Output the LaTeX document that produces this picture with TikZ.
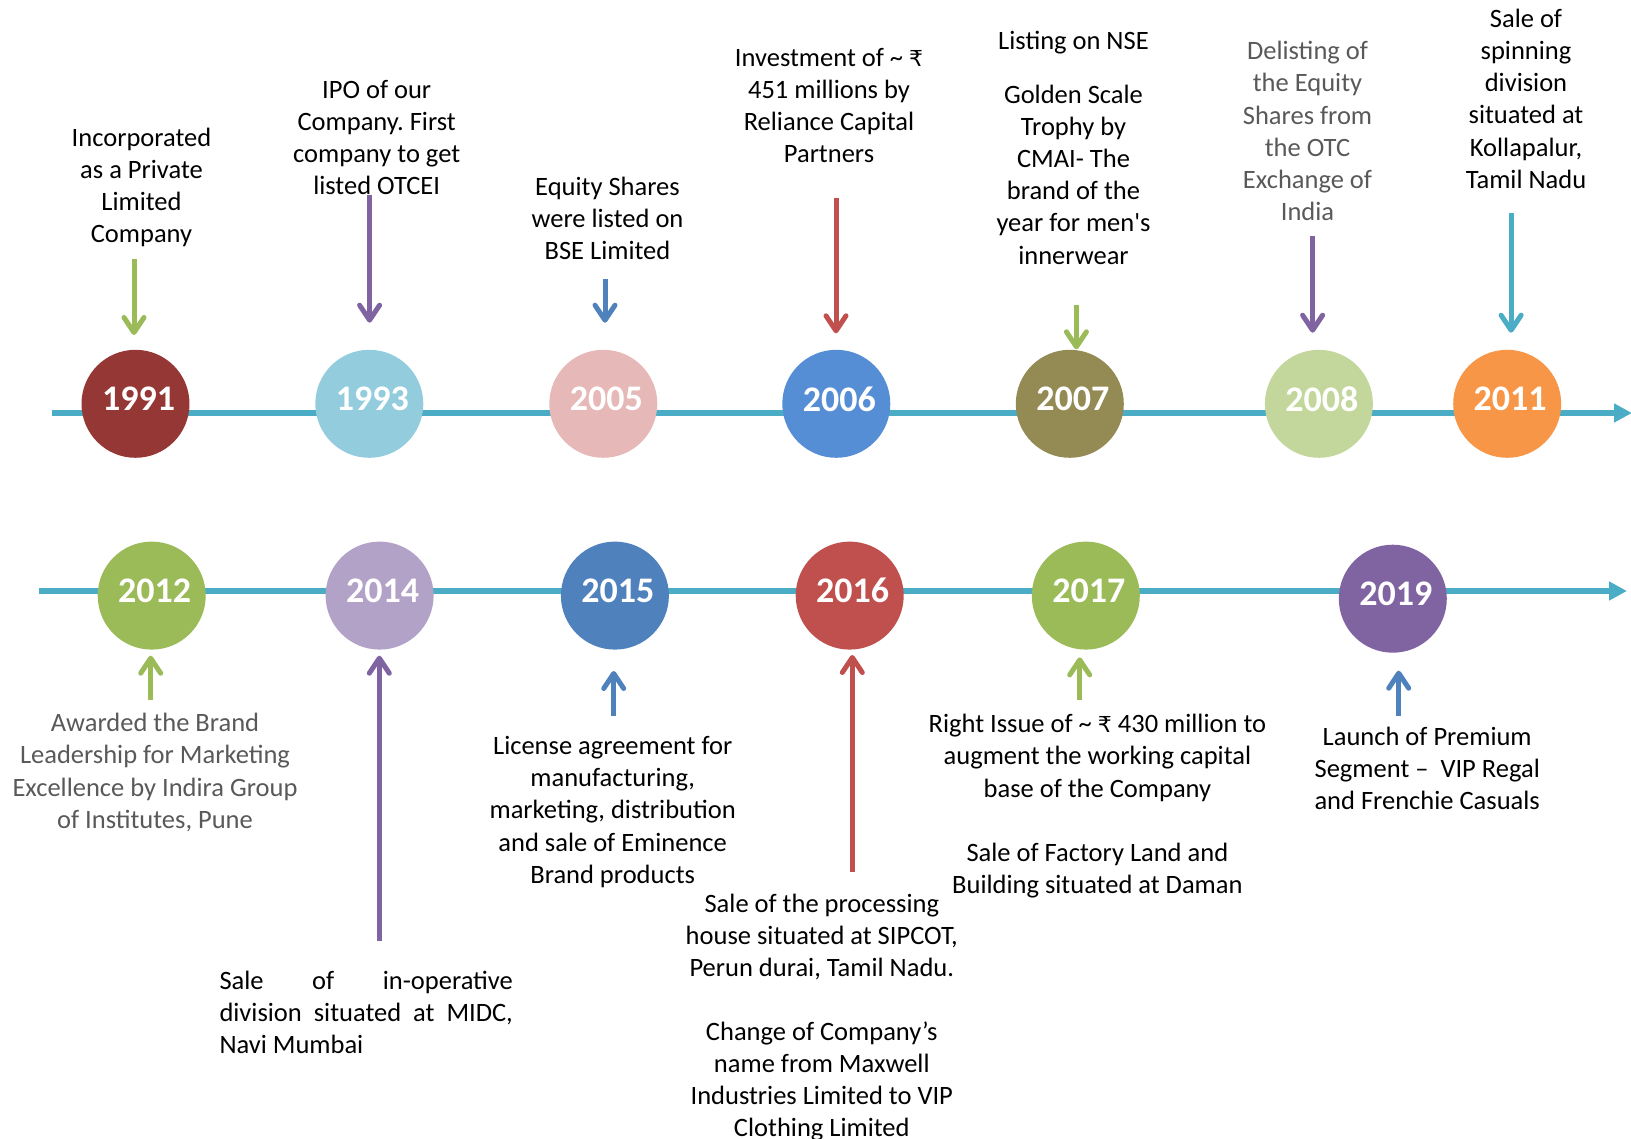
\documentclass[tikz,border=0pt]{standalone}
\usepackage{fontspec}
\setmainfont{Carlito}
\newfontfamily\rsfont{DejaVu Sans}
\usetikzlibrary{arrows.meta}
\frenchspacing
\definecolor{cLine}{HTML}{4BACC6}
\definecolor{cA}{HTML}{953735}
\definecolor{cB}{HTML}{93CDDD}
\definecolor{cC}{HTML}{E6B9B8}
\definecolor{cD}{HTML}{558ED5}
\definecolor{cE}{HTML}{948A54}
\definecolor{cF}{HTML}{C3D69B}
\definecolor{cG}{HTML}{F79646}
\definecolor{cGreen}{HTML}{9BBB59}
\definecolor{cLav}{HTML}{B3A2C7}
\definecolor{cBlue}{HTML}{4F81BD}
\definecolor{cRed}{HTML}{C0504D}
\definecolor{cPurple}{HTML}{8064A2}
\definecolor{cGray}{HTML}{595959}
\newcommand{\rupee}{{\rsfont\fontsize{22}{26}\selectfont ₹}}
\tikzset{
  yearball/.style={circle, minimum size=108pt, inner sep=0pt, text=white,
    font=\fontsize{36}{40}\selectfont\bfseries, text depth=10pt},
  yeartext/.style={text=white, font=\fontsize{36}{40}\selectfont\bfseries, inner sep=0pt},
  txt/.style={font=\fontsize{26.5}{32.1}\selectfont, align=center, inner sep=0pt, anchor=north},
  gtxt/.style={txt, text=cGray},
  axis/.style={line width=6pt, draw=cLine, -{Triangle[length=18pt,width=18pt]}},
  evarrow/.style={line width=5pt, -{Straight Barb[length=15pt,width=20pt,round]}}
}
\begin{document}
\begin{tikzpicture}[x=1pt,y=-1pt]
\useasboundingbox (0,0) rectangle (1631,1139);
% timeline axes
\coordinate (topL) at (52,413);
\coordinate (topR) at (1632,413);
\coordinate (botL) at (38.5,591);
\coordinate (botR) at (1627,591);
\draw[axis] (topL) -- (topR);
\draw[axis] (botL) -- (botR);
% year balls, top row
\node[yearball, fill=cA] (y1991) at (135.5,403.8) {\hspace{6pt}1991};
\node[yearball, fill=cB] (y1993) at (369.3,403.8) {\hspace{6pt}1993};
\node[yearball, fill=cC] (y2005) at (603.3,403.8) {\hspace{6pt}2005};
\node[yearball, fill=cD] (y2006) at (836.3,403.8) {\hspace{6pt}2006};
\node[yearball, fill=cE] (y2007) at (1069.8,403.8) {\hspace{6pt}2007};
\node[yearball, fill=cF] (y2008) at (1318.9,403.8) {\hspace{6pt}2008};
\node[yearball, fill=cG] (y2011) at (1507.2,403.8) {\hspace{6pt}2011};
% year balls, bottom row
\node[yearball, fill=cGreen] (y2012) at (151.7,595.6) {\hspace{6pt}2012};
\node[yearball, fill=cLav] (y2014) at (379.6,595.6) {\hspace{6pt}2014};
\node[yearball, fill=cBlue] (y2015) at (614.9,595.6) {\hspace{6pt}2015};
\node[yearball, fill=cRed] (y2016) at (849.7,595.6) {\hspace{6pt}2016};
\node[yearball, fill=cGreen] (y2017) at (1085.8,595.6) {\hspace{6pt}2017};
\node[yearball, fill=cPurple] (y2019) at (1392.8,598.7) {\hspace{6pt}2019};
% texts, top row
\node[txt] (t1991) at (141.5,123.5) {\strut Incorporated\\as a Private\\Limited\\Company};
\node[txt] (t1993) at (376.7,75.7) {\strut IPO of our\\Company. First\\company to get\\listed OTCEI};
\node[txt] (t2005) at (607.5,172.4) {\strut Equity Shares\\were listed on\\BSE Limited};
\node[txt] (t2006) at (829,43.5) {\strut Investment of \textasciitilde\ \rupee\\451 millions by\\Reliance Capital\\Partners};
\node[txt] (t2007) at (1073.5,26.8) {\strut Listing on NSE\\[22pt]Golden Scale\\Trophy by\\CMAI- The\\brand of the\\year for men\textquotesingle s\\innerwear};
\node[gtxt] (t2008) at (1307.5,37.2) {\strut Delisting of\\the Equity\\Shares from\\the OTC\\Exchange of\\India};
\node[txt] (t2011) at (1526,5) {\strut Sale of\\spinning\\division\\situated at\\Kollapalur,\\Tamil Nadu};
% texts, bottom row
\node[gtxt] (t2012) at (155,709.2) {\strut Awarded the Brand\\Leadership for Marketing\\Excellence by Indira Group\\of Institutes, Pune};
\node[txt, align=left, anchor=north west] (t2014) at (219.3,966.4) {\strut\makebox[293.4pt][s]{Sale of in-operative}\\\makebox[293.4pt][s]{division situated at MIDC,}\\Navi Mumbai};
\node[txt] (t2015) at (612.7,732.1) {\strut License agreement for\\manufacturing,\\marketing, distribution\\and sale of Eminence\\Brand products};
\node[txt] (t2016) at (821.8,889.5) {\strut Sale of the processing\\house situated at SIPCOT,\\Perun durai, Tamil Nadu.\\[32.1pt]Change of Company’s\\name from Maxwell\\Industries Limited to VIP\\Clothing Limited};
\node[txt] (t2017) at (1097.4,710.2) {\strut Right Issue of \textasciitilde\ \rupee\ 430 million to\\augment the working capital\\base of the Company\\[32.1pt]Sale of Factory Land and\\Building situated at Daman};
\node[txt] (t2019) at (1427.2,722.7) {\strut Launch of Premium\\Segment –\ \ VIP Regal\\and Frenchie Casuals};
% arrow end points, top row
\coordinate (s1991) at (134,259.3);   \coordinate (e1991) at (134,335);
\coordinate (s1993) at (369.6,195);   \coordinate (e1993) at (369.6,322.7);
\coordinate (s2005) at (605,279);     \coordinate (e2005) at (605,322.7);
\coordinate (s2006) at (836,198.3);   \coordinate (e2006) at (836,333.3);
\coordinate (s2007) at (1076.4,305);  \coordinate (e2007) at (1076.4,349.3);
\coordinate (s2008) at (1312.6,236);  \coordinate (e2008) at (1312.6,332.7);
\coordinate (s2011) at (1511.1,213.3);\coordinate (e2011) at (1511.1,332.7);
% arrow end points, bottom row
\coordinate (s2012) at (150.7,700.4); \coordinate (e2012) at (150.7,655.7);
\coordinate (s2014) at (379.3,941.4); \coordinate (e2014) at (379.3,655.7);
\coordinate (s2015) at (613.7,715.7); \coordinate (e2015) at (613.7,671);
\coordinate (s2016) at (852.3,871.7); \coordinate (e2016) at (852.3,655);
\coordinate (s2017) at (1079.7,700);  \coordinate (e2017) at (1079.7,657.4);
\coordinate (s2019) at (1398.7,715.7);\coordinate (e2019) at (1398.7,670.7);
% arrows
\draw[evarrow, draw=cGreen]  (s1991) -- (e1991);
\draw[evarrow, draw=cPurple] (s1993) -- (e1993);
\draw[evarrow, draw=cBlue]   (s2005) -- (e2005);
\draw[evarrow, draw=cRed]    (s2006) -- (e2006);
\draw[evarrow, draw=cGreen]  (s2007) -- (e2007);
\draw[evarrow, draw=cPurple] (s2008) -- (e2008);
\draw[evarrow, draw=cLine]   (s2011) -- (e2011);
\draw[evarrow, draw=cGreen]  (s2012) -- (e2012);
\draw[evarrow, draw=cPurple] (s2014) -- (e2014);
\draw[evarrow, draw=cBlue]   (s2015) -- (e2015);
\draw[evarrow, draw=cRed]    (s2016) -- (e2016);
\draw[evarrow, draw=cGreen]  (s2017) -- (e2017);
\draw[evarrow, draw=cBlue]   (s2019) -- (e2019);
\end{tikzpicture}
\end{document}
